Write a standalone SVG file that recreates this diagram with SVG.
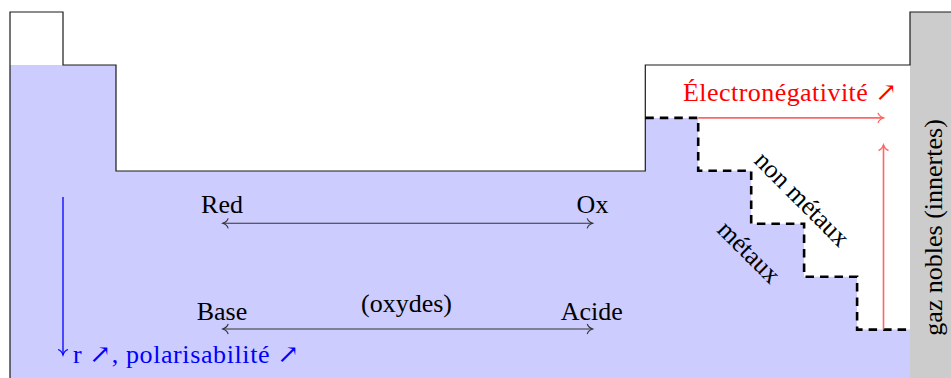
<svg xmlns="http://www.w3.org/2000/svg" width="951" height="378" viewBox="0 0 951 378">
  <style>
    .lbl { font-family: "Liberation Serif", "DejaVu Serif", serif; font-size: 26px; fill: #000; }
    .red { fill: #ff0000; }
    .blue { fill: #0000ff; }
    .outline { fill: none; stroke: #1a1a1a; stroke-width: 1.2; }
    .stair { fill: none; stroke: #000; stroke-width: 2.6; stroke-dasharray: 8.5 6; }
    .blk { fill: none; stroke: #333; stroke-width: 1.1; }
    .rl { fill: none; stroke: #ff6666; stroke-width: 1.6; }
    .bl { fill: none; stroke: #0000ff; stroke-width: 1.3; }
  </style>
  <defs>
    <marker id="toK" viewBox="-7 -7 9 14" refX="0" refY="0" markerWidth="9" markerHeight="14" markerUnits="userSpaceOnUse" orient="auto-start-reverse">
      <path d="M-5.5,-5 C-4.5,-2 -1.5,-0.5 0,0 C-1.5,0.5 -4.5,2 -5.5,5" fill="none" stroke="#333" stroke-width="1.1"/>
    </marker>
    <marker id="toR" viewBox="-7 -7 9 14" refX="0" refY="0" markerWidth="9" markerHeight="14" markerUnits="userSpaceOnUse" orient="auto-start-reverse">
      <path d="M-5.5,-5 C-4.5,-2 -1.5,-0.5 0,0 C-1.5,0.5 -4.5,2 -5.5,5" fill="none" stroke="#ff6666" stroke-width="1.4"/>
    </marker>
    <marker id="toB" viewBox="-7 -7 9 14" refX="0" refY="0" markerWidth="9" markerHeight="14" markerUnits="userSpaceOnUse" orient="auto-start-reverse">
      <path d="M-5.5,-5 C-4.5,-2 -1.5,-0.5 0,0 C-1.5,0.5 -4.5,2 -5.5,5" fill="none" stroke="#0000ff" stroke-width="1.2"/>
    </marker>
  </defs>

  <g id="table">
    <path id="metal-fill" d="M10,65 H116 V171 H645.3 V117.9 H698.2 V170.8 H751.2 V223.8 H804.1 V276.7 H857.1 V329.6 H910 V378 H10 Z" fill="#ccccff"/>
    <rect id="noble-gas" x="910" y="12" width="41" height="366" fill="#cccccc"/>
    <path class="outline" d="M10,378 V12 H63 V65 H116 V171 H645.3 V65 H910 V12 H951"/>
    <path id="staircase" class="stair" d="M645.3,117.9 H698.2 V170.8 H751.2 V223.8 H804.1 V276.7 H857.1 V329.6 H910"/>
  </g>

  <g id="connectors">
    <path class="blk" d="M222.7,223.3 H592.7" marker-start="url(#toK)" marker-end="url(#toK)"/>
    <path class="blk" d="M222.7,329 H592.7" marker-start="url(#toK)" marker-end="url(#toK)"/>
    <path class="rl" d="M698.2,117.9 H883.5" marker-end="url(#toR)"/>
    <path class="rl" d="M883.5,329.6 V145" marker-end="url(#toR)"/>
    <path class="bl" d="M63,197 V355" marker-end="url(#toB)"/>
  </g>

  <g id="labels">
    <text class="lbl" x="222" y="213" text-anchor="middle">Red</text>
    <text class="lbl" x="592.5" y="213" text-anchor="middle">Ox</text>
    <text class="lbl" x="222" y="320" text-anchor="middle">Base</text>
    <text class="lbl" x="406.5" y="312" text-anchor="middle">(oxydes)</text>
    <text class="lbl" x="591.7" y="320" text-anchor="middle">Acide</text>
    <text class="lbl red" x="683" y="101" textLength="214" lengthAdjust="spacing">Électronégativité ↗</text>
    <text class="lbl blue" x="73" y="363" textLength="226" lengthAdjust="spacing">r ↗, polarisabilité ↗</text>
    <text class="lbl" transform="translate(801,200) rotate(45)" x="0" y="7" text-anchor="middle">non métaux</text>
    <text class="lbl" transform="translate(748,253) rotate(45)" x="0" y="7" text-anchor="middle">métaux</text>
    <text class="lbl" transform="translate(942,227.5) rotate(-90)" x="0" y="0" text-anchor="middle">gaz nobles (innertes)</text>
  </g>
</svg>
